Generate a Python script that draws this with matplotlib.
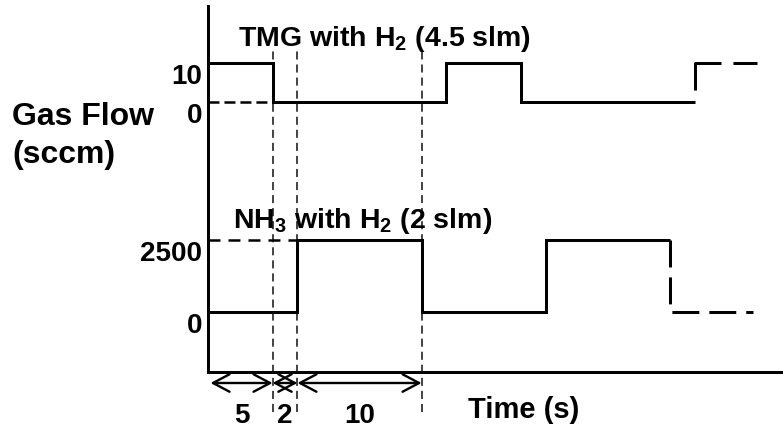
import numpy as np
import matplotlib.pyplot as plt
from matplotlib import transforms

plt.rcParams['font.family'] = ['Liberation Sans', 'DejaVu Sans']
plt.rcParams['font.weight'] = 'bold'
plt.rcParams['mathtext.fontset'] = 'custom'
plt.rcParams['mathtext.rm'] = 'Liberation Sans:bold'
plt.rcParams['mathtext.it'] = 'Liberation Sans:bold'
plt.rcParams['mathtext.bf'] = 'Liberation Sans:bold'
plt.rcParams['lines.scale_dashes'] = False

# gas flow sequence (time in s)
tmg_t = [0, 5, 19, 25, 39]
tmg_v = [10, 0, 10, 0, 0]
tmg_next_t = [39, 39, 44]        # continues (dashed)
tmg_next_v = [0, 10, 10]
nh3_t = [0, 7, 17, 27, 37]
nh3_v = [0, 2500, 0, 2500, 2500]
nh3_next_t = [37, 37, 43.7]
nh3_next_v = [2500, 0, 0]
tmg_ticks = [10, 0]
nh3_ticks = [2500, 0]
step_edges = [0, 5, 7, 17]
step_labels = ['5', '2', '10']

W, H = 783, 432
fig = plt.figure(figsize=(W / 100, H / 100), dpi=100)


def px(x, y):  # pixel from top-left -> figure fraction
    return x / W, 1 - y / H


ax_left, ax_top, ax_bottom = 208, 6, 372
rect = [ax_left / W, 1 - ax_bottom / H, (W - ax_left) / W, (ax_bottom - ax_top) / H]
xlim = (-0.2, 46.1)
lw = 2.16

ax = fig.add_axes(rect)
ax.set_xlim(xlim)
ax.set_xticks([])
ax.set_yticks([])
for s in ['top', 'right']:
    ax.spines[s].set_visible(False)
for s in ['left', 'bottom']:
    ax.spines[s].set_linewidth(lw)


def level_axes(v_lo, y_lo, v_hi, y_hi):
    # overlay axes whose y scale puts v_lo / v_hi at the given pixel rows
    a = fig.add_axes(rect)
    a.set_xlim(xlim)
    per = (v_hi - v_lo) / (y_lo - y_hi)
    a.set_ylim(v_lo - (ax_bottom - y_lo) * per, v_hi + (y_hi - ax_top) * per)
    a.axis('off')
    a.patch.set_visible(False)
    return a


ax_tmg = level_axes(0, 102.5, 10, 63.5)
ax_nh3 = level_axes(0, 312, 2500, 240)

line_kw = dict(color='black', lw=lw, solid_joinstyle='miter', solid_capstyle='butt',
               dash_capstyle='butt', clip_on=False)

# solid traces
ax_tmg.step([xlim[0]] + tmg_t[1:], tmg_v, where='post', **line_kw)
ax_nh3.step([xlim[0]] + nh3_t[1:], nh3_v, where='post', **line_kw)
# dashed continuations
ax_tmg.plot(tmg_next_t, tmg_next_v, linestyle=(38.2, (38.2, 8.6)), **line_kw)
ax_nh3.plot(nh3_next_t, nh3_next_v, linestyle=(0, (19.4, 7.2)), **line_kw)
# reference levels
ax_tmg.plot([xlim[0], tmg_t[1]], [0, 0], linestyle=(0, (7.9, 3.6)), color='black', lw=1.8)
ax_nh3.plot([xlim[0], nh3_t[1]], [2500, 2500], linestyle=(0, (8.6, 5.8)), color='black', lw=1.8)

# tick labels
for a, ticks in [(ax_tmg, tmg_ticks), (ax_nh3, nh3_ticks)]:
    for v in ticks:
        a.annotate(str(v), xy=(xlim[0], v), xytext=(-6, -21), textcoords='offset pixels',
                   ha='right', va='baseline', fontsize=20, annotation_clip=False)

# step boundaries
span = ax_bottom - ax_top
for t in step_edges[1:]:
    ax.axvline(t, ymin=(ax_bottom - 412) / span, ymax=(ax_bottom - 48) / span,
               color='#222222', lw=1.2, linestyle=(0, (5.8, 3.6)), clip_on=False)

trans = transforms.blended_transform_factory(ax.transData, fig.transFigure)
y_arrow = 1 - 383 / H
for a, b, lab in zip(step_edges[:-1], step_edges[1:], step_labels):
    ax.annotate('', xy=(b, y_arrow), xytext=(a, y_arrow), xycoords=trans, textcoords=trans,
                arrowprops=dict(arrowstyle='<->,head_length=0.85,head_width=0.45', lw=1.7,
                                mutation_scale=14, color='black', shrinkA=0, shrinkB=0),
                annotation_clip=False)
    ax.text((a + b) / 2, 1 - 423 / H, lab, transform=trans, ha='center', va='baseline',
            fontsize=20)

fig.text(*px(12, 125), 'Gas Flow', fontsize=23, va='baseline')
fig.text(*px(12, 163.5), '(sccm)', fontsize=23, va='baseline')
fig.text(*px(238, 46), 'TMG with H$_2$ (4.5 slm)', fontsize=20.5, va='baseline')
fig.text(*px(233, 228), 'NH$_3$ with H$_2$ (2 slm)', fontsize=20.5, va='baseline')
fig.text(*px(468, 418), 'Time (s)', fontsize=21, va='baseline')

fig.savefig('out.png', dpi=100)
